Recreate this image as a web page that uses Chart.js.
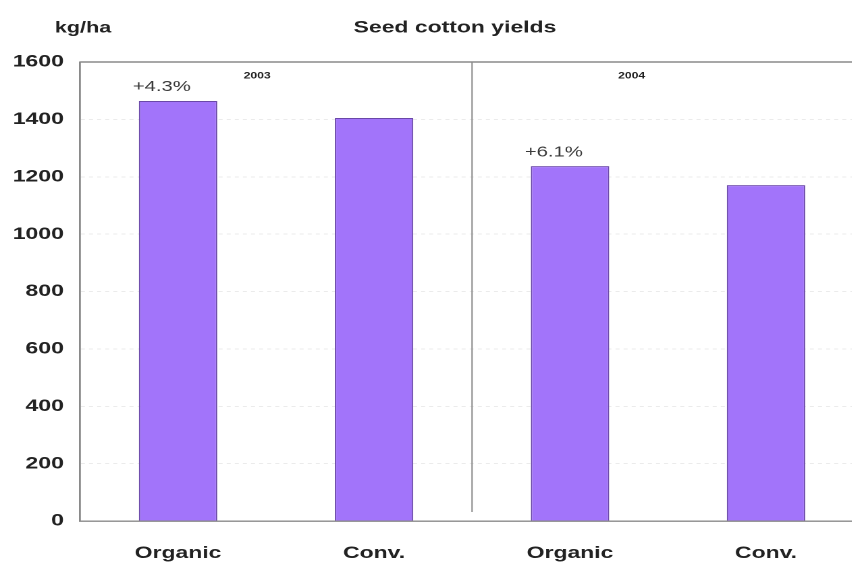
<!DOCTYPE html>
<html lang="en">
<head>
  <meta charset="UTF-8">
  <title>Seed cotton yields</title>
  <script src="https://cdn.jsdelivr.net/npm/chart.js"></script>
  <style>
    html, body { margin: 0; padding: 0; background: #fff; overflow: hidden; }
    /* the original picture is stretched sideways, so the whole chart is too */
    #wrap { width: 640px; height: 565px; transform: scale(1.35, 1); transform-origin: 0 0; }
  </style>
</head>
<body>
  <div id="wrap"><canvas id="chart" width="640" height="565"></canvas></div>

  <script>
    const categories = ['Organic', 'Conv.', 'Organic', 'Conv.'];
    const yields = [1464, 1405, 1237, 1171];
    const gainLabels = ['+4.3%', '', '+6.1%', ''];
    const years = ['2003', '2004'];
    const yearAnchors = [0.5, 2.5];
    const yTicks = [0, 200, 400, 600, 800, 1000, 1200, 1400, 1600];

    const FONT = '"Liberation Sans", Arial, sans-serif';

    const extras = {
      id: 'extras',
      afterDatasetsDraw(chart) {
        const { ctx, chartArea, scales } = chart;
        const x = scales.x, y = scales.y;
        ctx.save();

        // top border and year separator
        ctx.strokeStyle = '#8a8a8a';
        ctx.lineWidth = 1.4;
        ctx.beginPath();
        ctx.moveTo(chartArea.left, chartArea.top);
        ctx.lineTo(chartArea.right, chartArea.top);
        ctx.stroke();
        const sepX = (x.getPixelForValue(1) + x.getPixelForValue(2)) / 2;
        ctx.lineWidth = 1;
        ctx.beginPath();
        ctx.moveTo(sepX, chartArea.top);
        ctx.lineTo(sepX, chartArea.bottom - 9);
        ctx.stroke();

        // gain labels above organic bars
        ctx.fillStyle = '#3a3a3a';
        ctx.font = '15px ' + FONT;
        ctx.textAlign = 'center';
        ctx.textBaseline = 'middle';
        gainLabels.forEach((t, i) => {
          if (!t) return;
          ctx.fillText(t, x.getPixelForValue(i) - 12, y.getPixelForValue(yields[i]) - 14);
        });

        // year labels
        ctx.fillStyle = '#222';
        ctx.font = 'bold 9px ' + FONT;
        ctx.fillText(years[0], x.getPixelForValue(yearAnchors[0]) - 14, chartArea.top + 14);
        ctx.fillText(years[1], x.getPixelForValue(yearAnchors[1]) - 27, chartArea.top + 14);

        // unit and title
        ctx.font = 'bold 16px ' + FONT;
        ctx.fillText('kg/ha', 61.5, 28);
        ctx.font = 'bold 17px ' + FONT;
        ctx.fillText('Seed cotton yields', 337, 28);
        ctx.restore();
      }
    };

    new Chart(document.getElementById('chart'), {
      type: 'bar',
      data: {
        labels: categories,
        datasets: [{
          data: yields,
          backgroundColor: '#a274fa',
          borderColor: '#6a48a8',
          borderWidth: 1,
          categoryPercentage: 1,
          barPercentage: 0.4
        }]
      },
      options: {
        responsive: false,
        animation: false,
        devicePixelRatio: 2,
        layout: { padding: { top: 62, right: 0, left: 0, bottom: 0 } },
        plugins: {
          legend: { display: false },
          tooltip: { enabled: false }
        },
        scales: {
          x: {
            grid: { display: false, drawTicks: false },
            border: { color: '#8a8a8a', width: 1.4 },
            ticks: { color: '#222', font: { family: FONT, size: 17, weight: 'bold' }, padding: 22, maxRotation: 0 },
            afterFit(scale) { scale.height = 44; }
          },
          y: {
            min: 0,
            max: 1600,
            afterBuildTicks(scale) { scale.ticks = yTicks.map(v => ({ value: v })); },
            grid: { color: 'rgba(0,0,0,0.08)', drawTicks: false },
            border: { color: '#8a8a8a', width: 1.4, dash: [3, 3] },
            ticks: {
              color: '#222',
              font: { family: FONT, size: 17, weight: 'bold' },
              padding: 12,
              callback: v => String(v)
            },
            afterFit(scale) { scale.width = 59.3; }
          }
        }
      },
      plugins: [extras]
    });
  </script>
</body>
</html>
